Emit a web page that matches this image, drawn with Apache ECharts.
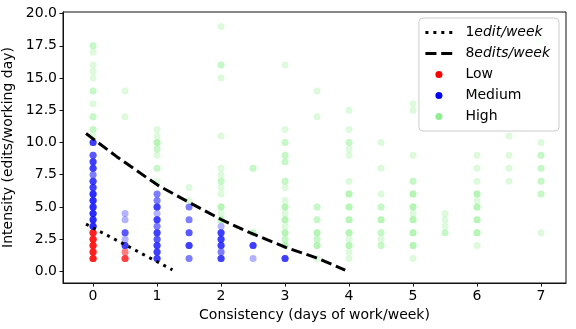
<!DOCTYPE html>
<html>
<head>
<meta charset="utf-8">
<script src="https://cdn.jsdelivr.net/npm/echarts@6/dist/echarts.min.js"></script>
<style>html,body{margin:0;padding:0;background:#fff}#c{width:576px;height:329px}</style>
</head>
<body>
<div id="c"></div>
<script>
// Tick labels
const xTicks = [0, 1, 2, 3, 4, 5, 6, 7];
const yTicks = [0, 2.5, 5, 7.5, 10, 12.5, 15, 17.5, 20];

// Reference curves [consistency, intensity]
const oneEditLine = [[-0.11, 3.67], [0.2, 2.85], [0.49, 2.1], [0.73, 1.46], [1.0, 0.75], [1.24, 0.12]];
const eightEditsLine = [[-0.11, 10.7], [0.37, 8.9], [0.83, 7.3], [1.04, 6.6], [1.56, 5.2], [2.03, 3.95], [2.45, 3.0], [3.02, 1.85], [3.49, 1.05], [3.94, 0.1]];

// Scatter points [consistency, intensity, number of overlapping users]
const lowPts = [
  [0, 1, 6], [0, 1.5, 6], [0, 2, 6], [0, 2.5, 6], [0, 3, 6],
  [0.5, 1, 4], [0.5, 1.5, 2]
];
const mediumPts = [
  [0, 10, 4], [0, 9, 3], [0, 8.5, 4], [0, 8, 4], [0, 7.5, 2], [0, 7, 4], [0, 6.5, 4], [0, 6, 5],
  [0, 5.5, 5], [0, 5, 5], [0, 4.5, 5], [0, 4, 5], [0, 3.5, 5],
  [0.5, 4.5, 1], [0.5, 4, 1], [0.5, 3, 3], [0.5, 2.5, 1], [0.5, 2, 4],
  [1, 6, 2], [1, 5.5, 2], [1, 5, 4], [1, 4.5, 1], [1, 4, 4], [1, 3.5, 2], [1, 3, 4], [1, 2.5, 3],
  [1, 2, 4], [1, 1.5, 4], [1, 1, 4],
  [1.5, 5, 2], [1.5, 4, 2], [1.5, 3, 3], [1.5, 2, 4], [1.5, 1, 2],
  [2, 3.5, 1], [2, 3, 4], [2, 2.5, 4], [2, 2, 4], [2, 1.5, 2], [2, 1, 4],
  [2.5, 2, 4], [2.5, 1, 1],
  [3, 1, 4]
];
const highPts = [
  [0, 17.5, 2], [0, 17, 1], [0, 16, 1], [0, 15.5, 1], [0, 15, 1], [0, 14, 2], [0, 13, 1], [0, 12, 2], [0, 11, 2], [0, 10.5, 1],
  [0.5, 14, 1], [0.5, 12, 1],
  [1, 11, 1], [1, 10.5, 1], [1, 10, 3], [1, 9.5, 2], [1, 9, 1], [1, 8, 2], [1, 7, 1],
  [1.5, 6.5, 1], [1.5, 5.5, 1],
  [2, 19, 1], [2, 16, 2], [2, 15, 1], [2, 10.5, 1], [2, 8, 1], [2, 7.5, 1], [2, 7, 2], [2, 6.5, 1], [2, 6, 1], [2, 5, 3], [2, 4.5, 1], [2, 4, 3],
  [2.5, 8, 2], [2.5, 3, 2],
  [3, 16, 1], [3, 11, 1], [3, 10, 2], [3, 9, 2], [3, 8.5, 2], [3, 7, 2], [3, 6.5, 1], [3, 5.5, 1], [3, 5, 3], [3, 4.5, 1], [3, 4, 3], [3, 3.5, 1], [3, 3, 3], [3, 2.5, 2], [3, 2, 3],
  [3.5, 14, 1], [3.5, 12, 1], [3.5, 5, 2], [3.5, 4, 2], [3.5, 3, 3], [3.5, 2.5, 2], [3.5, 2, 3], [3.5, 1, 1],
  [4, 12.5, 1], [4, 11, 1], [4, 10, 2], [4, 9.5, 1], [4, 9, 1], [4, 7, 1], [4, 6, 3], [4, 5, 3], [4, 4, 3], [4, 3, 3], [4, 2.5, 1], [4, 2, 3], [4, 1.5, 1], [4, 1, 1],
  [4.5, 10, 1], [4.5, 8, 1], [4.5, 6, 1], [4.5, 5, 2], [4.5, 4, 3], [4.5, 3, 2], [4.5, 2.5, 1], [4.5, 2, 2],
  [5, 13, 1], [5, 12.5, 1], [5, 9, 1], [5, 7, 2], [5, 6, 3], [5, 5, 3], [5, 4.5, 1], [5, 4, 3], [5, 3, 3], [5, 2, 3], [5, 1, 1],
  [5.5, 4.5, 1], [5.5, 4, 1], [5.5, 3.5, 1], [5.5, 3, 2],
  [6, 14, 1], [6, 9, 1], [6, 8, 1], [6, 7, 1], [6, 6, 3], [6, 5.5, 1], [6, 5, 3], [6, 4, 3], [6, 3, 3], [6, 2, 1],
  [6.5, 10.5, 1], [6.5, 9, 1], [6.5, 8, 1], [6.5, 7, 1],
  [7, 18, 1], [7, 10, 1], [7, 9, 2], [7, 8, 2], [7, 7, 2], [7, 6, 2], [7, 3, 1]
];

function expand(arr) {
  const out = [];
  arr.forEach(function (p) { for (let i = 0; i < p[2]; i++) out.push([p[0], p[1]]); });
  return out;
}

const FONT = 'DejaVu Sans';
const chart = echarts.init(document.getElementById('c'), null, { renderer: 'canvas' });

function scatter(name, color, pts) {
  return {
    name: name, type: 'scatter', data: expand(pts), symbol: 'circle', symbolSize: 7,
    itemStyle: { color: color, opacity: 0.3 }, z: 2, emphasis: { disabled: true }
  };
}

chart.setOption({
  animation: false,
  grid: { left: 63, right: 10, top: 12, bottom: 46, outerBoundsMode: 'none', containLabel: false,
          show: true, borderColor: '#111', borderWidth: 1, backgroundColor: 'transparent' },
  xAxis: {
    type: 'value', min: -0.47, max: 7.39,
    splitLine: { show: false },
    axisLine: { show: true, onZero: false, lineStyle: { color: '#111', width: 1 } },
    axisTick: { show: true, inside: false, length: 3.5, customValues: xTicks, lineStyle: { color: '#111' } },
    axisLabel: { customValues: xTicks, fontSize: 14, fontFamily: FONT, color: '#000', margin: 6, formatter: function (v) { return String(v); } },
    name: 'Consistency (days of work/week)', nameLocation: 'middle', nameGap: 23,
    nameTextStyle: { fontSize: 14, fontFamily: FONT, color: '#000' }
  },
  yAxis: {
    type: 'value', min: -0.9, max: 20.12,
    splitLine: { show: false },
    axisLine: { show: true, onZero: false, lineStyle: { color: '#111', width: 1 } },
    axisTick: { show: true, inside: false, length: 3.5, customValues: yTicks, lineStyle: { color: '#111' } },
    axisLabel: { customValues: yTicks, fontSize: 14, fontFamily: FONT, color: '#000', margin: 6, formatter: function (v) { return v.toFixed(1); } },
    name: 'Intensity (edits/working day)', nameLocation: 'middle', nameGap: 42,
    nameTextStyle: { fontSize: 14, fontFamily: FONT, color: '#000' }
  },
  legend: {
    orient: 'vertical', right: 17, top: 18,
    data: [
      { name: '1edit/week', itemStyle: { opacity: 0 }, lineStyle: { width: 3, color: '#000', type: [3, 4.95] } },
      { name: '8edits/week', itemStyle: { opacity: 0 }, lineStyle: { width: 3, color: '#000', type: [11, 4.8] } },
      { name: 'Low', itemStyle: { opacity: 1 } },
      { name: 'Medium', itemStyle: { opacity: 1 } },
      { name: 'High', itemStyle: { opacity: 1 } }
    ],
    itemWidth: 27, itemHeight: 7, itemGap: 0,
    backgroundColor: 'rgba(255,255,255,0.8)', borderColor: '#cccccc', borderWidth: 1, borderRadius: 4,
    padding: [4, 9, 4, 5],
    selectedMode: false,
    textStyle: {
      fontSize: 14, fontFamily: FONT, color: '#000', lineHeight: 21, padding: [0, 0, 0, 8],
      rich: {
        n: { fontSize: 14, fontFamily: FONT, color: '#000', fontStyle: 'normal', lineHeight: 21 },
        i: { fontSize: 14, fontFamily: FONT, color: '#000', fontStyle: 'italic', lineHeight: 21 }
      }
    },
    formatter: function (name) {
      if (name === '1edit/week') return '{n|1}{i|edit/week}';
      if (name === '8edits/week') return '{n|8}{i|edits/week}';
      return name;
    }
  },
  series: [
    { name: '1edit/week', type: 'line', data: oneEditLine, symbol: 'none', z: 5,
      lineStyle: { color: '#000', width: 3, type: [3, 4.95], cap: 'butt' }, itemStyle: { color: '#000' } },
    { name: '8edits/week', type: 'line', data: eightEditsLine, symbol: 'none', z: 5,
      lineStyle: { color: '#000', width: 3, type: [11, 4.8], cap: 'butt' }, itemStyle: { color: '#000' } },
    scatter('Low', '#ff0000', lowPts),
    scatter('Medium', '#0000ff', mediumPts),
    scatter('High', '#90ee90', highPts)
  ]
});
</script>
</body>
</html>
